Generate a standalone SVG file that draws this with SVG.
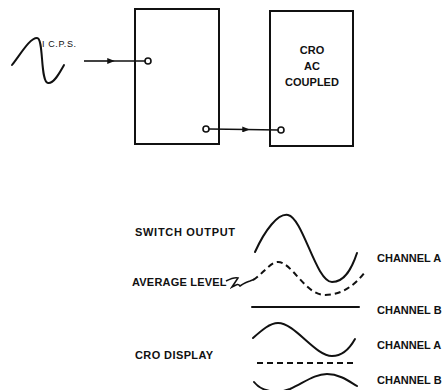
<svg xmlns="http://www.w3.org/2000/svg" width="446" height="390" viewBox="0 0 446 390">
<style>
.box{fill:none;stroke:#111;stroke-width:2}
.ln{fill:none;stroke:#111;stroke-width:2;stroke-linecap:round}
.th{fill:none;stroke:#111;stroke-width:1.6}
.dash{fill:none;stroke:#111;stroke-width:2;stroke-dasharray:6 4}
.term{fill:#fff;stroke:#111;stroke-width:1.6}
.lbl{font-family:"Liberation Sans",Arial,sans-serif;font-weight:bold;font-size:11px;fill:#111}
.sm{font-family:"Liberation Sans",Arial,sans-serif;font-size:9px;fill:#111;letter-spacing:0.6px}
</style>
<defs>
<marker id="ah" viewBox="0 0 10 8" refX="5" refY="4" markerWidth="9" markerHeight="6" markerUnits="userSpaceOnUse" orient="auto">
<path d="M0,0 L10,4 L0,8 Z" fill="#111"/>
</marker>
</defs>
<rect width="446" height="390" fill="#fff"/>
<g id="input-signal">
<path class="ln" d="M12,65 C22,52 30,38 37,38 C44,38 40,82 48,83 C54,84 60,72 64,65"/>
<text class="sm" x="42" y="47">I C.P.S.</text>
</g>
<g id="switch">
<rect class="box" x="135" y="9" width="84" height="135"/>
</g>
<g id="cro">
<rect class="box" x="270" y="11" width="83" height="135"/>
<text class="lbl" text-anchor="middle" x="312" y="54">CRO</text>
<text class="lbl" text-anchor="middle" x="312" y="70">AC</text>
<text class="lbl" text-anchor="middle" x="312" y="86">COUPLED</text>
</g>
<g id="connectors">
<path class="th" d="M84,61 L111,61" marker-end="url(#ah)"/>
<path class="th" d="M111,61 L145,61"/>
<circle class="term" cx="148" cy="61" r="3"/>
<path class="th" d="M209,129 L246,129.5" marker-end="url(#ah)"/>
<path class="th" d="M246,129.5 L278,130"/>
<circle class="term" cx="206" cy="129" r="3"/>
<circle class="term" cx="281" cy="130" r="3"/>
</g>
<g id="waveforms">
<text class="lbl" x="135" y="236" style="letter-spacing:0.7px">SWITCH OUTPUT</text>
<text class="lbl" x="132" y="286" style="letter-spacing:0.2px">AVERAGE LEVEL</text>
<path class="th" d="M226,281 C230,279 235,277 238,278 L232,287 C236,285 238,283 240,286 C243,284 246,282 250,281 L255,279"/>
<text class="lbl" x="135" y="359" style="letter-spacing:0.4px">CRO DISPLAY</text>
<path class="ln" d="M255,252 C265,230 278,213 288,215 C303,218 316,282 332,282 C345,282 352,268 357,253"/>
<path class="dash" d="M253,280 C262,275 270,262 278,262 C292,262 305,295 325,295 C342,295 355,285 365,272"/>
<path class="ln" d="M252,307 L359,307"/>
<path class="ln" d="M253,338 C262,330 270,323 278,323 C295,323 315,356 332,356 C343,356 350,348 355,339"/>
<path class="dash" d="M257,363 L357,363"/>
<path class="ln" d="M254,382 C260,390 275,395 290,389 C305,382 315,374 327,374 C340,374 350,382 357,386"/>
<text class="lbl" x="377" y="262">CHANNEL A</text>
<text class="lbl" x="377" y="314">CHANNEL B</text>
<text class="lbl" x="377" y="349">CHANNEL A</text>
<text class="lbl" x="377" y="384">CHANNEL B</text>
</g>
</svg>
